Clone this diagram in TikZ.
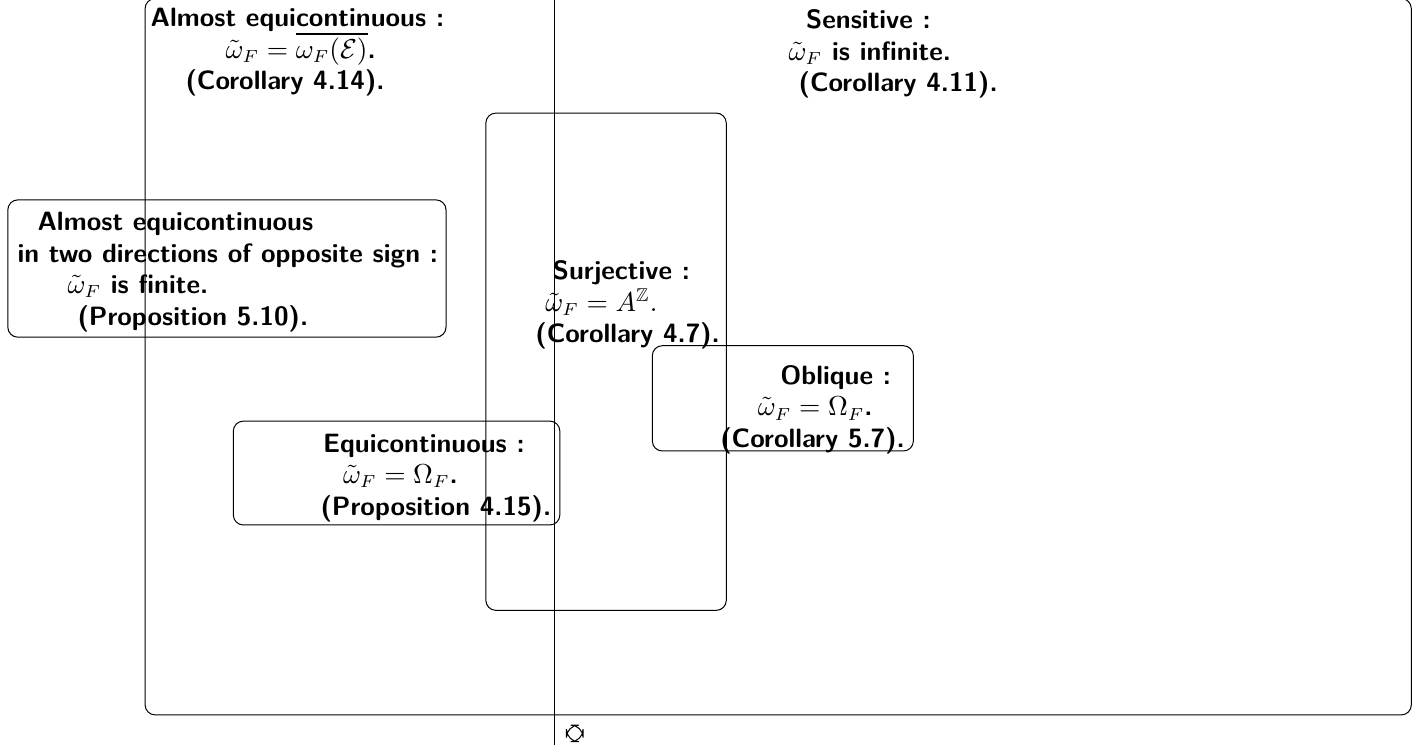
\documentclass[tikz,border=0pt]{standalone}
\usepackage{amssymb}
\usepackage{tikz}

\tikzset{
  setbox/.style={rounded corners},
  txt/.style={font=\fontsize{10.6}{12.6}\selectfont\sffamily\bfseries, align=left, inner sep=0pt, anchor=north west},
}

\begin{document}
\begin{tikzpicture}
\useasboundingbox (0,0) rectangle (19.92,-10.54);

% sets
\draw[setbox] (2.04,0.02) rectangle (19.84,-10.05);
\draw[setbox] (6.83,-1.59) rectangle (10.21,-8.58);
\draw[setbox] (0.11,-2.81) rectangle (6.27,-4.74);
\draw[setbox] (3.28,-5.92) rectangle (7.87,-7.38);
\draw[setbox] (9.17,-4.86) rectangle (12.84,-6.34);

% separation line
\coordinate (top) at (7.79,0.3);
\coordinate (bot) at (7.79,-10.47);
\draw (top) -- (bot);
\node[draw, rounded corners=5pt] (o) at (8.08,-10.31) {};

% texts
\node[txt] (ae) at (2.11,-0.11) {Almost equicontinuous :\\
  \hspace*{30pt}$\tilde{\omega}_F=\overline{\omega_F(\mathcal{E})}$.\\
  \hspace*{14pt}(Corollary 4.14).};
\node[txt] (sens) at (11.08,-0.13) {\hspace*{7pt}Sensitive :\\
  $\tilde{\omega}_F$ is infinite.\\
  \hspace*{4pt}(Corollary 4.11).};
\node[txt] (ae2) at (0.24,-2.98) {\hspace*{8pt}Almost equicontinuous\\
  in two directions of opposite sign :\\
  \hspace*{20pt}$\tilde{\omega}_F$ is finite.\\
  \hspace*{24pt}(Proposition 5.10).};
\node[txt] (surj) at (7.52,-3.66) {\hspace*{7pt}Surjective :\\
  \hspace*{4pt}$\tilde{\omega}_F=A^{\mathbb{Z}}.$\\
  (Corollary 4.7).};
\node[txt] (obl) at (10.12,-5.13) {\hspace*{24pt}Oblique :\\
  \hspace*{15pt}$\tilde{\omega}_F=\Omega_F$.\\
  (Corollary 5.7).};
\node[txt] (equi) at (4.50,-6.09) {\hspace*{1pt}Equicontinuous :\\
  \hspace*{9pt}$\tilde{\omega}_F=\Omega_F$.\\
  (Proposition 4.15).};
\end{tikzpicture}
\end{document}
